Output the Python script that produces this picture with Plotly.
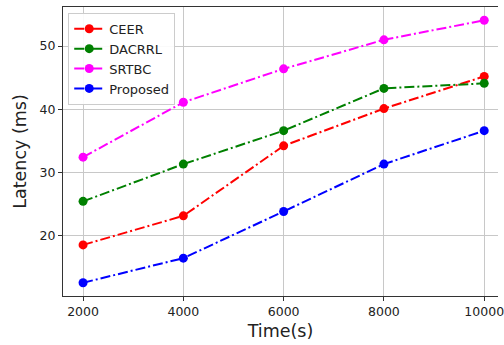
import plotly.graph_objects as go

time_s = [2000, 4000, 6000, 8000, 10000]
ceer = [18.5, 23.1, 34.2, 40.1, 45.2]
dacrrl = [25.4, 31.3, 36.6, 43.3, 44.1]
srtbc = [32.4, 41.1, 46.4, 51.0, 54.1]
proposed = [12.5, 16.4, 23.8, 31.3, 36.6]

series = [
    ("CEER", ceer, "#ff0000"),
    ("DACRRL", dacrrl, "#008000"),
    ("SRTBC", srtbc, "#ff00ff"),
    ("Proposed", proposed, "#0000ff"),
]

fig = go.Figure()
for name, vals, col in series:
    fig.add_trace(go.Scatter(
        x=time_s, y=vals, name=name, mode="lines+markers",
        line=dict(color=col, width=2, dash="10px,3px,2px,3px"),
        marker=dict(color=col, size=9),
    ))

font_family = "DejaVu Sans"
fig.update_layout(
    width=504, height=345,
    margin=dict(l=63, r=0, t=7, b=49),
    paper_bgcolor="white", plot_bgcolor="white",
    font=dict(family=font_family, color="#222"),
    showlegend=True,
    legend=dict(
        x=0.012, y=0.98, xanchor="left", yanchor="top",
        bgcolor="rgba(255,255,255,0.9)", bordercolor="#cccccc", borderwidth=1,
        font=dict(size=13, color="#222"),
        itemwidth=30,
    ),
    xaxis=dict(
        range=[1600, 10275],
        tickvals=time_s, ticktext=[str(v) for v in time_s],
        ticklabeloverflow="allow",
        showgrid=True, gridcolor="#c8c8c8", gridwidth=1,
        showline=True, linecolor="#333", linewidth=1, mirror=True,
        ticks="outside", ticklen=4, tickcolor="#333",
        tickfont=dict(size=12.5, color="#222"),
        title=dict(text="Time(s)", font=dict(size=17.5, color="#222"), standoff=6),
        zeroline=False,
    ),
    yaxis=dict(
        range=[10.4, 56.2],
        tickvals=[20, 30, 40, 50],
        showgrid=True, gridcolor="#c8c8c8", gridwidth=1,
        showline=True, linecolor="#333", linewidth=1, mirror=False,
        ticks="outside", ticklen=4, tickcolor="#333",
        tickfont=dict(size=12.5, color="#222"),
        title=dict(text="Latency (ms)", font=dict(size=17.5, color="#222"), standoff=8),
        zeroline=False,
    ),
)

fig.write_html("out.html")
